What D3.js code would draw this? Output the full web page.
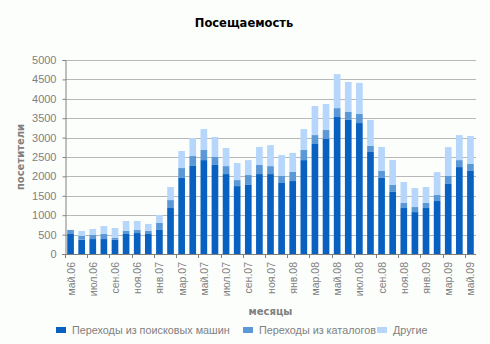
<!DOCTYPE html>
<html>
<head>
<meta charset="utf-8">
<script src="https://cdn.jsdelivr.net/npm/d3@7/dist/d3.min.js"></script>
<style>
  html, body { margin: 0; padding: 0; background: #fcfefc; }
  svg { display: block; font-family: "Liberation Sans", Arial, sans-serif; }
</style>
</head>
<body>
<svg id="chart" width="490" height="344"></svg>
<script>
// Monthly visits, May 2006 – May 2009
const months = [
  "май.06","июн.06","июл.06","авг.06","сен.06","окт.06","ноя.06","дек.06",
  "янв.07","фев.07","мар.07","апр.07","май.07","июн.07","июл.07","авг.07",
  "сен.07","окт.07","ноя.07","дек.07","янв.08","фев.08","мар.08","апр.08",
  "май.08","июн.08","июл.08","авг.08","сен.08","окт.08","ноя.08","дек.08",
  "янв.09","фев.09","мар.09","апр.09","май.09"
];
const searchEngines = [
  515, 370, 385, 385, 370, 515, 540, 515, 620, 1185, 1960, 2270, 2420, 2295, 2060, 1750,
  1780, 2060, 2060, 1830, 1880, 2420, 2835, 2965, 3530, 3455, 3375, 2630, 1960, 1600, 1185, 1080,
  1185, 1365, 1805, 2240, 2140
];
const catalogs = [
  105, 95, 105, 130, 50, 80, 80, 80, 180, 205, 255, 255, 260, 205, 205, 155,
  255, 235, 205, 180, 235, 260, 230, 230, 230, 205, 235, 155, 180, 180, 130, 130,
  130, 155, 205, 180, 180
];
const others = [
  0, 130, 155, 205, 250, 255, 230, 180, 205, 335, 440, 465, 540, 515, 465, 440,
  385, 465, 540, 540, 490, 540, 750, 670, 875, 775, 800, 670, 620, 645, 540, 490,
  410, 590, 745, 645, 720
];
const seriesNames = ["Переходы из поисковых машин", "Переходы из каталогов", "Другие"];
const seriesColors = ["#0860c0", "#5b98d8", "#b6d6fb"];
const yTicks = [0, 500, 1000, 1500, 2000, 2500, 3000, 3500, 4000, 4500, 5000];

const table = months.map((m, i) => ({
  month: m, s0: searchEngines[i], s1: catalogs[i], s2: others[i]
}));
const stack = d3.stack().keys(["s0", "s1", "s2"])(table);

const svg = d3.select("#chart");
const plotLeft = 65, plotRight = 476, plotTop = 60, plotBottom = 254;
const grey = "#808080";
const boldFont = "'DejaVu Sans', Verdana, sans-serif";

const x = d3.scaleBand().domain(months).range([plotLeft, plotRight])
  .paddingInner(0.4).paddingOuter(0.2);
const y = d3.scaleLinear().domain([0, 5000]).range([plotBottom, plotTop]);

// title
svg.append("text").attr("x", 244).attr("y", 27)
  .attr("text-anchor", "middle")
  .style("font-family", boldFont).style("font-size", "11.5px").style("font-weight", "bold")
  .attr("fill", "#000").text("Посещаемость");

// gridlines
svg.append("g").selectAll("line").data(yTicks.filter(d => d > 0)).join("line")
  .attr("x1", plotLeft).attr("x2", plotRight)
  .attr("y1", d => Math.round(y(d)) + 0.5).attr("y2", d => Math.round(y(d)) + 0.5)
  .attr("stroke", "#b8b8b8").attr("stroke-width", 1);

// bars
svg.append("g").selectAll("g").data(stack).join("g")
  .attr("fill", (d, i) => seriesColors[i])
  .selectAll("rect").data(d => d).join("rect")
  .attr("x", d => x(d.data.month))
  .attr("width", x.bandwidth())
  .attr("y", d => y(d[1]))
  .attr("height", d => y(d[0]) - y(d[1]));

// y axis
const yAxis = svg.append("g").attr("transform", `translate(${plotLeft + 0.5},0)`)
  .call(d3.axisLeft(y).tickValues(yTicks).tickSize(3).tickPadding(6).tickFormat(d3.format("d")));
yAxis.attr("font-family", null).attr("font-size", null);
yAxis.select(".domain").attr("stroke", grey);
yAxis.selectAll(".tick line").attr("stroke", grey);
yAxis.selectAll("text").attr("fill", grey).style("font-size", "11px");

// x axis: ticks on every second category boundary, labels on every second category
const step = x.step();
const x0 = x(months[0]) - x.paddingOuter() * step;
const xa = svg.append("g");
xa.append("line").attr("x1", plotLeft - 3).attr("x2", plotRight)
  .attr("y1", plotBottom + 0.5).attr("y2", plotBottom + 0.5).attr("stroke", grey);
const boundaries = d3.range(0, months.length + 1, 2).map(i => Math.round(x0 + i * step) + 0.5);
xa.selectAll("line.tk").data(boundaries).join("line").attr("class", "tk")
  .attr("x1", d => d).attr("x2", d => d)
  .attr("y1", plotBottom).attr("y2", plotBottom + 4).attr("stroke", grey);
xa.selectAll("text").data(months.filter((m, i) => i % 2 === 0)).join("text")
  .attr("transform", d => `translate(${x(d) + x.bandwidth() / 2 + 4},${plotBottom + 8}) rotate(-90)`)
  .attr("text-anchor", "end").style("font-size", "10.5px").attr("fill", grey)
  .text(d => d);

// axis titles
svg.append("text")
  .attr("transform", `translate(24,${(plotTop + plotBottom) / 2}) rotate(-90)`)
  .attr("text-anchor", "middle")
  .style("font-family", boldFont).style("font-size", "10px").style("font-weight", "bold")
  .attr("fill", grey).text("посетители");
svg.append("text").attr("x", (plotLeft + plotRight) / 2).attr("y", 315)
  .attr("text-anchor", "middle")
  .style("font-family", boldFont).style("font-size", "10px").style("font-weight", "bold")
  .attr("fill", grey).text("месяцы");

// legend
const legendX = [56, 243, 377];
const lg = svg.append("g").selectAll("g").data(seriesNames).join("g")
  .attr("transform", (d, i) => `translate(${legendX[i]},325)`);
lg.append("rect").attr("width", 10).attr("height", 6).attr("y", 2)
  .attr("fill", (d, i) => seriesColors[i]);
lg.append("text").attr("x", 16).attr("y", 9).style("font-size", "10.8px")
  .attr("fill", grey).text(d => d);
</script>
</body>
</html>
